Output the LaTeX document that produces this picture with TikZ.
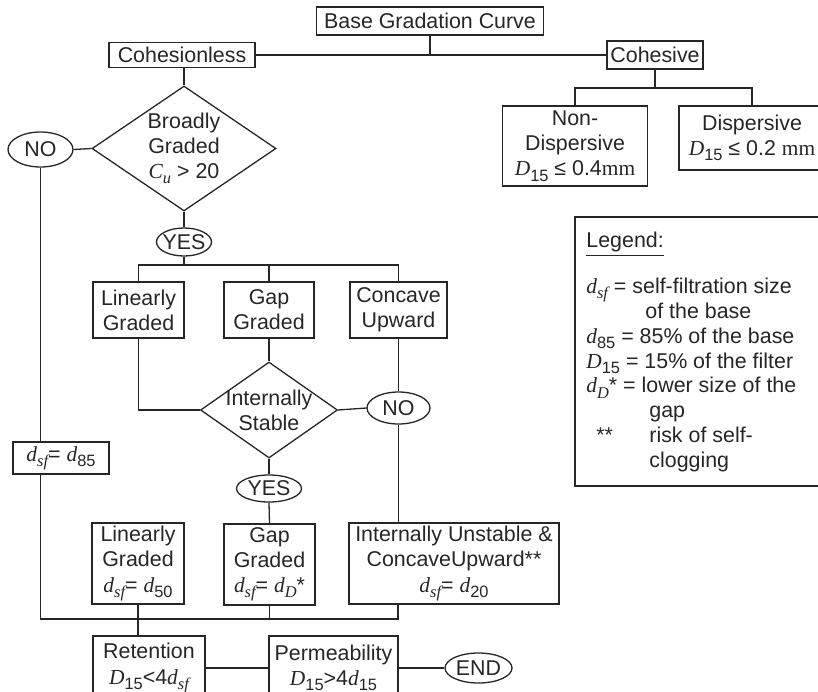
\documentclass[tikz,border=0pt]{standalone}
\usepackage{fontspec}
\setmainfont{Liberation Sans}
\newfontfamily\tms{Liberation Serif}
\usetikzlibrary{shapes.geometric}

% italic serif symbol and a subscript
\newcommand{\itv}[1]{{\tms\itshape #1}}
\newcommand{\lo}[1]{\raisebox{-0.45ex}{\fontsize{8.2}{9}\selectfont #1}}

\begin{document}
\begin{tikzpicture}[x=0.5pt, y=-0.5pt, color=black!85,
  font=\fontsize{10.7}{12.6}\selectfont,
  box/.style={draw, line width=0.65pt, align=center, inner sep=1pt},
  dia/.style={draw, line width=0.65pt, diamond, align=center, inner sep=-4pt},
  oval/.style={draw, line width=0.65pt, ellipse, inner sep=-2pt},
  link/.style={draw, line width=0.65pt}
]
\clip (0,0) rectangle (818,691);

% top split
\node[box, minimum width=113.5pt, minimum height=14pt] (base) at (430,21) {Base Gradation Curve};
\node[box, minimum width=73pt, minimum height=12.5pt] (cl) at (182,55) {Cohesionless};
\node[box, minimum width=48pt, minimum height=14pt] (cv) at (655,55) {Cohesive};
\node[box, minimum width=72.5pt, minimum height=40pt] (nd) at (575,146)
  {Non-\\Dispersive\\\itv{D}\lo{15} ≤ 0.4{\tms mm}};
\node[box, minimum width=73pt, minimum height=32pt] (ds) at (752,138)
  {Dispersive\\\itv{D}\lo{15} ≤ 0.2 {\tms mm}};

% legend
\node[box, minimum width=125pt, minimum height=134.5pt] (lg) at (700,351.5) {};
\node[anchor=north west, align=left, inner sep=0pt, font=\fontsize{10.7}{12.4}\selectfont] (lgt) at (586,232)
  {\underline{Legend:}\\[10.5pt]
   \itv{d}\lo{\itv{sf}} = self-filtration size\\
   \hspace*{29.5pt}of the base\\
   \itv{d}\lo{85} = 85\% of the base\\
   \itv{D}\lo{15} = 15\% of the filter\\
   \itv{d}\lo{\itv{D}}* = lower size of the\\
   \hspace*{31.5pt}gap\\
   \makebox[31.5pt][l]{\hspace*{5pt}**}risk of self-\\
   \hspace*{31.5pt}clogging};

% cohesionless branch
\node[dia, aspect=1.47, minimum width=92pt, minimum height=62.5pt] (bg) at (184,148.5)
  {Broadly\\Graded\\\itv{C}\lo{\itv{u}} > 20};
\node[oval, minimum width=32.5pt, minimum height=17.5pt] (no1) at (40.5,149.5) {NO};
\node[oval, minimum width=27.5pt, minimum height=14pt] (yes1) at (184,242) {YES};
\node[box, minimum width=45.5pt, minimum height=28pt] (lg1) at (138.5,310) {Linearly\\Graded};
\node[box, minimum width=45pt, minimum height=28pt] (gg1) at (269,310) {Gap\\Graded};
\node[box, minimum width=48.5pt, minimum height=28pt] (cu1) at (398.5,310) {Concave\\Upward};
\node[dia, aspect=1.43, minimum width=68.5pt, minimum height=48pt] (is) at (269,410) {Internally\\Stable};
\node[oval, minimum width=31.5pt, minimum height=16pt] (no2) at (398.5,408) {NO};
\node[oval, minimum width=32.5pt, minimum height=13.5pt] (yes2) at (269,488.5) {YES};
\node[box, minimum width=48pt, minimum height=16pt] (d85) at (61,458)
  {\itv{d}\lo{\itv{sf}}= \itv{d}\lo{85}};
\node[box, minimum width=46pt, minimum height=40.5pt] (lg2) at (138,563.5)
  {Linearly\\Graded\\\itv{d}\lo{\itv{sf}}= \itv{d}\lo{50}};
\node[box, minimum width=45.5pt, minimum height=40.5pt] (gg2) at (269.5,564.5)
  {Gap\\Graded\\\itv{d}\lo{\itv{sf}}= \itv{d}\lo{\itv{D}}*};
\node[box, minimum width=105pt, minimum height=40.5pt] (iu) at (454,563.5)
  {Internally Unstable \&\\ConcaveUpward**\\\itv{d}\lo{\itv{sf}}= \itv{d}\lo{20}};
\node[box, minimum width=56pt, minimum height=32pt] (rt) at (149,668)
  {Retention\\\itv{D}\lo{15}<4\itv{d}\lo{\itv{sf}}};
\node[box, minimum width=64.5pt, minimum height=32pt] (pm) at (333.5,668)
  {Permeability\\\itv{D}\lo{15}>4\itv{d}\lo{15}};
\node[oval, minimum width=33.5pt, minimum height=15pt] (done) at (478.5,668) {END};

% connectors
\draw[link] (base.south) -- (base.south |- cl.east);
\draw[link] (cl.east) -- (cv.west);
\draw[link] (bg.north |- cl.south) -- (bg.north);
\coordinate (cvj) at (656,88);
\draw[link] (cv.south) -- (cv.south |- cvj);
\draw[link] (nd.north) -- (nd.north |- cvj) -- (ds.north |- cvj) -- (ds.north);

\draw[link] (no1.east) -- (bg.west);
\draw[link] (no1.south) -- (no1.south |- d85.north);
\draw[link] (bg.south) -- (yes1.north);
\coordinate (ytj) at (184,265);
\draw[link] (yes1.south) -- (ytj);
\draw[link] (lg1.north) -- (lg1.north |- ytj) -- (cu1.north |- ytj) -- (cu1.north);
\draw[link] (gg1.north) -- (gg1.north |- ytj);
\draw[link] (lg1.south) |- (is.west);
\draw[link] (gg1.south) -- (is.north);
\draw[link] (cu1.south) -- (no2.north);
\draw[link] (is.east) -- (no2.west);
\draw[link] (is.south) -- (yes2.north);
\draw[link] (yes2.south) -- (gg2.north);
\draw[link] (no2.south) -- (no2.south |- iu.north);

\coordinate (jb) at (398,619);
\draw[link] (no1.south |- d85.south) |- (jb) -- (jb |- iu.south);
\draw[link] (gg2.south) -- (gg2.south |- jb);
\draw[link] (lg2.south) -- (lg2.south |- rt.north);
\draw[link] (rt.east) -- (pm.west);
\draw[link] (pm.east) -- (done.west);
\end{tikzpicture}
\end{document}
